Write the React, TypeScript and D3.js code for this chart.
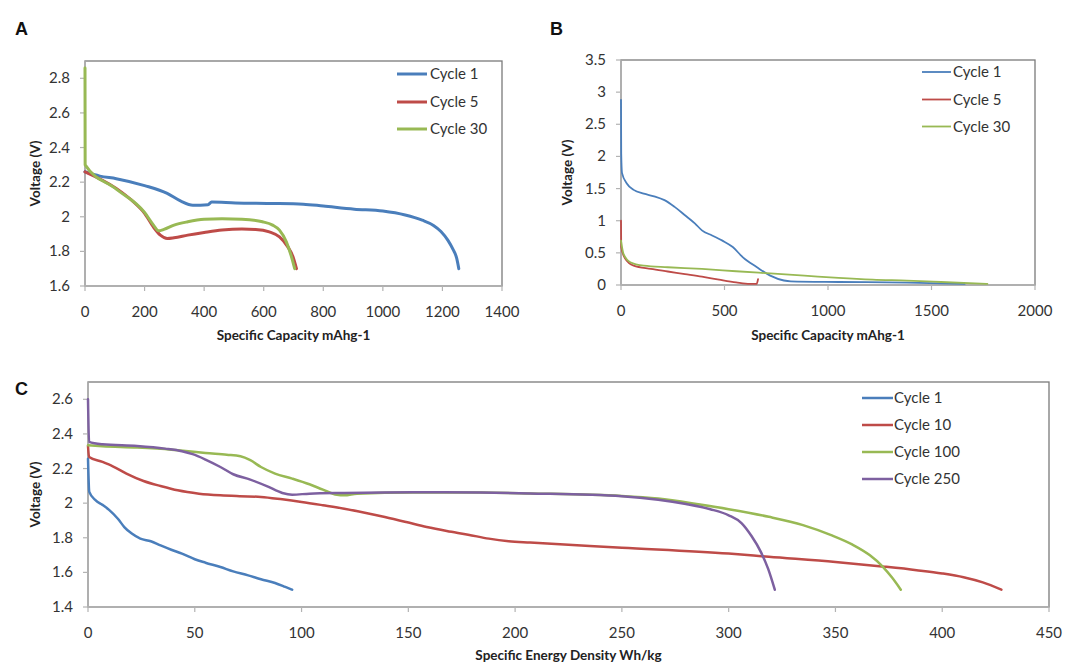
import React from "react";
import * as d3 from "d3";

type Pt = [number, number];

// ---------- Panel A data (Specific Capacity mAhg-1 vs Voltage) ----------
const aCycle1: Pt[] = [
  [0, 2.26], [50, 2.235], [105, 2.22], [200, 2.18], [276, 2.135], [322, 2.09], [362, 2.067],
  [413, 2.07], [425, 2.085], [505, 2.08], [619, 2.077], [733, 2.073], [800, 2.062],
  [904, 2.044], [1000, 2.033], [1075, 2.01], [1132, 1.98], [1170, 1.95], [1195, 1.915],
  [1218, 1.865], [1236, 1.81], [1248, 1.76], [1255, 1.7],
];
const aCycle5: Pt[] = [
  [0, 2.26], [105, 2.164], [162, 2.087], [200, 2.02], [230, 1.94], [253, 1.894], [276, 1.875],
  [299, 1.879], [345, 1.894], [400, 1.909], [460, 1.923], [527, 1.929], [573, 1.927],
  [619, 1.913], [653, 1.884], [681, 1.826], [698, 1.77], [710, 1.7],
];
const aCycle30: Pt[] = [
  [0, 2.86], [0.5, 2.3], [105, 2.16], [200, 2.025], [230, 1.952], [247, 1.919], [265, 1.927],
  [299, 1.952], [345, 1.971], [400, 1.985], [460, 1.988], [527, 1.985], [596, 1.971],
  [630, 1.952], [653, 1.923], [676, 1.855], [693, 1.77], [704, 1.7],
];
const aXTicks = [0, 200, 400, 600, 800, 1000, 1200, 1400];
const aYTicks = [1.6, 1.8, 2, 2.2, 2.4, 2.6, 2.8];

// ---------- Panel B data ----------
const bCycle1: Pt[] = [
  [0, 2.88], [1, 2.05], [5, 1.74], [28, 1.58], [61, 1.48], [110, 1.42], [160, 1.38],
  [210, 1.32], [259, 1.215], [309, 1.085], [358, 0.955], [391, 0.85], [440, 0.77],
  [490, 0.69], [540, 0.59], [589, 0.43], [655, 0.28], [721, 0.146], [787, 0.07],
  [820, 0.057], [1051, 0.047], [1381, 0.037], [1660, 0.016],
];
const bCycle5: Pt[] = [
  [0, 1.0], [1, 0.59], [20, 0.41], [61, 0.3], [144, 0.25], [226, 0.21], [309, 0.17],
  [391, 0.13], [474, 0.083], [556, 0.04], [622, 0.016], [655, 0.016], [662, 0.09],
];
const bCycle30: Pt[] = [
  [0, 0.69], [12, 0.485], [45, 0.355], [110, 0.3], [226, 0.276], [391, 0.25], [556, 0.214],
  [721, 0.18], [886, 0.146], [1051, 0.11], [1216, 0.083], [1381, 0.068], [1546, 0.047],
  [1770, 0.016],
];
const bXTicks = [0, 500, 1000, 1500, 2000];
const bYTicks = [0, 0.5, 1, 1.5, 2, 2.5, 3, 3.5];

// ---------- Panel C data (Specific Energy Density Wh/kg) ----------
const cCycle1: Pt[] = [
  [0, 2.257], [0.6, 2.065], [3.5, 2.017], [6.8, 1.99], [10, 1.96], [14, 1.91], [17, 1.862],
  [20.5, 1.824], [24.5, 1.795], [29.4, 1.78], [34, 1.756], [39, 1.731], [44, 1.708],
  [50, 1.676], [55, 1.656], [62, 1.631], [68, 1.606], [75, 1.583], [81, 1.56],
  [87.6, 1.539], [92.4, 1.516], [95.6, 1.5],
];
const cCycle10: Pt[] = [
  [0, 2.33], [0.5, 2.267], [6.8, 2.238], [11.6, 2.213], [18, 2.171], [26, 2.128],
  [34, 2.099], [42, 2.074], [52, 2.055], [62, 2.045], [71, 2.04], [81, 2.036], [91, 2.022],
  [100, 2.007], [110, 1.988], [120, 1.968], [129.6, 1.945], [139, 1.92], [149, 1.891],
  [158.6, 1.862], [168, 1.839], [178, 1.818], [187.7, 1.795], [197, 1.78], [207, 1.772],
  [250, 1.743], [300, 1.709], [318.8, 1.69], [350, 1.66], [373, 1.633], [388, 1.613],
  [400, 1.594], [410, 1.572], [419, 1.542], [427.7, 1.5],
];
const cCycle100: Pt[] = [
  [0, 2.334], [6.8, 2.329], [23, 2.321], [39, 2.309], [47, 2.3], [55, 2.29], [65, 2.28],
  [71.4, 2.271], [76, 2.248], [81, 2.209], [87.6, 2.171], [95.6, 2.142], [103.7, 2.109],
  [110, 2.078], [116.6, 2.048], [120, 2.045], [126, 2.055], [152, 2.062], [184, 2.061],
  [207, 2.056], [250, 2.042], [267, 2.027], [286.6, 1.992], [300, 1.965], [318.8, 1.921],
  [334.8, 1.873], [348, 1.815], [358, 1.76], [366, 1.7], [372, 1.635], [376.5, 1.57],
  [380.6, 1.5],
];
const cCycle250: Pt[] = [
  [0, 2.6], [0.5, 2.354], [6.8, 2.34], [23, 2.33], [36, 2.315], [44, 2.3], [49, 2.283],
  [55, 2.252], [62, 2.209], [68, 2.167], [76, 2.136], [84, 2.097], [91, 2.059],
  [95.6, 2.049], [103.7, 2.055], [120, 2.059], [152, 2.063], [184, 2.061], [207, 2.056],
  [250, 2.04], [267, 2.02], [280, 1.995], [291.4, 1.965], [300, 1.93], [306, 1.885],
  [310.7, 1.81], [315, 1.72], [318.5, 1.62], [321.6, 1.5],
];
const cXTicks = [0, 50, 100, 150, 200, 250, 300, 350, 400, 450];
const cYTicks = [1.4, 1.6, 1.8, 2, 2.2, 2.4, 2.6];

const seriesNamesAB = ["Cycle 1", "Cycle 5", "Cycle 30"];
const seriesNamesC = ["Cycle 1", "Cycle 10", "Cycle 100", "Cycle 250"];
const colors = ["#4A7EBB", "#BE4B48", "#98B954", "#7D60A0"];

const FONT = "Lato, 'Open Sans', sans-serif";

interface PanelProps {
  letter: string;
  letterPos: [number, number];
  xDomain: [number, number];
  yDomain: [number, number];
  xRange: [number, number];
  yRange: [number, number];
  xTicks: number[];
  yTicks: number[];
  series: Pt[][];
  names: string[];
  lineWidth: number;
  legend: { x1: number; x2: number; tx: number; ys: number[] };
  xTitle: string;
  xTitleY: number;
  yTitleX: number;
}

function Panel(p: PanelProps) {
  const x = d3.scaleLinear().domain(p.xDomain).range(p.xRange);
  const y = d3.scaleLinear().domain(p.yDomain).range(p.yRange);
  const line = d3
    .line<Pt>()
    .x((d) => x(d[0]))
    .y((d) => y(d[1]))
    .curve(d3.curveMonotoneX);
  const [x0, x1] = p.xRange;
  const [yb, yt] = p.yRange;
  const axisCol = "#B3B3B3";
  const fmt = (v: number) => String(+v.toFixed(2));
  return (
    <g>
      <text x={p.letterPos[0]} y={p.letterPos[1]} fontFamily="Arial, 'Liberation Sans', sans-serif"
        fontWeight="bold" fontSize={18} fill="#111">{p.letter}</text>
      <rect x={x0} y={yt} width={x1 - x0} height={yb - yt} fill="white" stroke="#7A7A7A" strokeWidth={1.3} />
      <line x1={x0} x2={x1} y1={yb} y2={yb} stroke={axisCol} strokeWidth={1.3} />
      <line x1={x0} x2={x0} y1={yb} y2={yt} stroke={axisCol} strokeWidth={1.3} />
      {p.xTicks.map((t) => (
        <g key={"xt" + t}>
          <line x1={x(t)} x2={x(t)} y1={yb} y2={yb + 5} stroke={axisCol} strokeWidth={1.2} />
          <text x={x(t)} y={yb + 31} textAnchor="middle" fontFamily={FONT} fontSize={15} fill="#333">{fmt(t)}</text>
        </g>
      ))}
      {p.yTicks.map((t) => (
        <g key={"yt" + t}>
          <line x1={x0 - 5} x2={x0} y1={y(t)} y2={y(t)} stroke={axisCol} strokeWidth={1.2} />
          <text x={x0 - 15} y={y(t) + 5} textAnchor="end" fontFamily={FONT} fontSize={15} fill="#333">{fmt(t)}</text>
        </g>
      ))}
      <g>
        {p.series.map((s, i) => (
          <path key={"s" + i} d={line(s) || ""} fill="none" stroke={colors[i]} strokeWidth={p.lineWidth}
            strokeLinejoin="round" strokeLinecap="round" />
        ))}
      </g>
      {p.names.map((n, i) => (
        <g key={"lg" + i}>
          <line x1={p.legend.x1} x2={p.legend.x2} y1={p.legend.ys[i]} y2={p.legend.ys[i]} stroke={colors[i]}
            strokeWidth={p.lineWidth} />
          <text x={p.legend.tx} y={p.legend.ys[i] + 5} fontFamily={FONT} fontSize={15} fill="#333">{n}</text>
        </g>
      ))}
      <text x={(x0 + x1) / 2} y={p.xTitleY} textAnchor="middle" fontFamily={FONT} fontWeight="bold"
        fontSize={13.5} fill="#222">{p.xTitle}</text>
      <text transform={`translate(${p.yTitleX},${(yb + yt) / 2}) rotate(-90)`} textAnchor="middle"
        fontFamily={FONT} fontWeight="bold" fontSize={13.5} fill="#222">Voltage (V)</text>
    </g>
  );
}

export default function App() {
  return (
    <svg width={1067} height={664} style={{ position: "absolute", left: 0, top: 0, background: "white" }}>
      <rect width={1067} height={664} fill="white" />
      <Panel letter="A" letterPos={[15, 35]} xDomain={[0, 1400]} yDomain={[1.6, 2.9]} xRange={[85, 502]}
        yRange={[286, 61]} xTicks={aXTicks} yTicks={aYTicks} series={[aCycle1, aCycle5, aCycle30]}
        names={seriesNamesAB} lineWidth={3} legend={{ x1: 397, x2: 427, tx: 430, ys: [74, 102, 129] }}
        xTitle="Specific Capacity mAhg-1" xTitleY={340} yTitleX={40} />
      <Panel letter="B" letterPos={[550, 35]} xDomain={[0, 2000]} yDomain={[0, 3.5]} xRange={[621, 1035]}
        yRange={[285, 60]} xTicks={bXTicks} yTicks={bYTicks} series={[bCycle1, bCycle5, bCycle30]}
        names={seriesNamesAB} lineWidth={1.8} legend={{ x1: 922, x2: 951, tx: 953, ys: [72, 99.5, 126.5] }}
        xTitle="Specific Capacity mAhg-1" xTitleY={340} yTitleX={572} />
      <Panel letter="C" letterPos={[15, 395]} xDomain={[0, 450]} yDomain={[1.4, 2.7]} xRange={[88, 1049]}
        yRange={[607, 382]} xTicks={cXTicks} yTicks={cYTicks} series={[cCycle1, cCycle10, cCycle100, cCycle250]}
        names={seriesNamesC} lineWidth={2.5} legend={{ x1: 862, x2: 893, tx: 894, ys: [398, 425, 452, 479] }}
        xTitle="Specific Energy Density Wh/kg" xTitleY={660} yTitleX={40} />
    </svg>
  );
}
